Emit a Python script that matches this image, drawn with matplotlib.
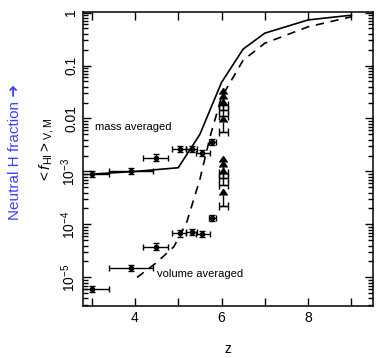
import numpy as np
import matplotlib
matplotlib.use("Agg")
import matplotlib.pyplot as plt
from matplotlib.ticker import FixedLocator, FixedFormatter, LogLocator, NullFormatter, MultipleLocator

plt.rcParams["font.family"] = ["Liberation Sans", "DejaVu Sans"]
plt.rcParams["mathtext.fontset"] = "custom"
plt.rcParams["mathtext.rm"] = "Liberation Sans"
plt.rcParams["mathtext.it"] = "Liberation Sans:italic"

# ── model curves (log10 <f_HI>) ─────────────────────────────────────────────
MASS_Z   = [3.0, 4.0, 5.0, 5.5, 6.0, 6.5, 7.0, 8.0, 9.0]
MASS_LOG = [-3.05, -3.0, -2.93, -2.3, -1.32, -0.69, -0.39, -0.14, -0.05]
VOL_Z    = [4.05, 4.5, 4.9, 5.2, 5.5, 5.75, 6.0, 6.5, 7.0, 8.0, 9.0]
VOL_LOG  = [-5.0, -4.72, -4.42, -3.95, -3.15, -2.3, -1.6, -0.9, -0.58, -0.27, -0.08]

# ── measurements ────────────────────────────────────────────────────────────
OBS_Z      = [3.0, 3.9, 4.48, 5.04, 5.31, 5.55, 5.79]
OBS_XLO    = [0.4, 0.5, 0.30, 0.18, 0.12, 0.13, 0.08]
OBS_XHI    = [0.4, 0.52, 0.29, 0.15, 0.12, 0.18, 0.08]
OBS_M_LOG  = [-3.05, -2.99, -2.74, -2.58, -2.58, -2.65, -2.44]
OBS_V_LOG  = [-5.22, -4.82, -4.42, -4.17, -4.14, -4.18, -3.88]
OBS_YERR   = 0.06   # dex

# lower limits at z~6
LIM_Z     = [6.04, 6.04, 6.04, 6.04]
LIM_M_LOG = [-1.745, -1.84, -1.95, -2.26]
LIM_V_LOG = [-3.03, -3.12, -3.25, -3.65]
ARROW_DEX = 0.2

YTICKS  = [1, 0.1, 0.01, 1e-3, 1e-4, 1e-5]
YLABELS = ["1", "0.1", "0.01", r"$10^{-3}$", r"$10^{-4}$", r"$10^{-5}$"]


def points(ax, logs):
    y = 10.0 ** np.array(logs)
    ylo = y - 10.0 ** (np.array(logs) - OBS_YERR)
    yhi = 10.0 ** (np.array(logs) + OBS_YERR) - y
    ax.errorbar(OBS_Z, y, xerr=[OBS_XLO, OBS_XHI], yerr=[ylo, yhi],
                fmt="o", color="k", ms=3, lw=1.0, capsize=2.5, zorder=4)


def limits(ax, logs):
    y = 10.0 ** np.array(logs)
    up = y * (10.0 ** ARROW_DEX - 1)
    ax.errorbar(LIM_Z, y, xerr=0.1, yerr=up, lolims=True,
                fmt="none", color="k", ecolor="k", lw=1.0, capsize=3, zorder=4)


fig = plt.figure(figsize=(3.76, 3.58), dpi=100)
ax = fig.add_axes([83 / 376, 1 - 306 / 358, 290 / 376, 294 / 358])

ax.plot(MASS_Z, 10.0 ** np.array(MASS_LOG), "k-", lw=1.2)
ax.plot(VOL_Z, 10.0 ** np.array(VOL_LOG), "k--", lw=1.2, dashes=(5, 4))
points(ax, OBS_M_LOG)
points(ax, OBS_V_LOG)
limits(ax, LIM_M_LOG)
limits(ax, LIM_V_LOG)

ax.set_yscale("log")
ax.set_xlim(2.8, 9.5)
ax.set_ylim(10 ** -5.54, 10 ** 0.01)

ax.yaxis.set_major_locator(FixedLocator(YTICKS))
ax.yaxis.set_major_formatter(FixedFormatter(YLABELS))
ax.yaxis.set_minor_locator(LogLocator(base=10, subs=np.arange(2, 10)))
ax.yaxis.set_minor_formatter(NullFormatter())
ax.xaxis.set_major_locator(FixedLocator([4, 6, 8]))
ax.xaxis.set_minor_locator(MultipleLocator(1))

ax.tick_params(which="both", direction="in", top=True, right=True, width=1)
ax.tick_params(which="major", length=6, labelsize=10)
ax.tick_params(which="minor", length=3.5)
ax.tick_params(axis="x", which="minor", length=6)
for lab in ax.get_yticklabels():
    lab.set_rotation(90)
    lab.set_va("center")
for sp in ax.spines.values():
    sp.set_linewidth(1.1)

ax.text(3.08, 10 ** -2.16, "mass averaged", fontsize=8, va="center", ha="left")
ax.text(4.5, 10 ** -4.93, "volume averaged", fontsize=8, va="center", ha="left")

ax.set_xlabel("z", fontsize=10, labelpad=12)
fig.text(47 / 376, 1 - 150 / 358, r"$<f_{\rm HI}>_{\rm V,M}$", rotation=90,
         ha="center", va="center", fontsize=11)
fig.text(15 / 376, 1 - 152 / 358, "Neutral H fraction ➜", rotation=90,
         ha="center", va="center", fontsize=11, color="#4040ff",
         family=["Liberation Sans", "DejaVu Sans"])

fig.savefig("out.png", dpi=100)
